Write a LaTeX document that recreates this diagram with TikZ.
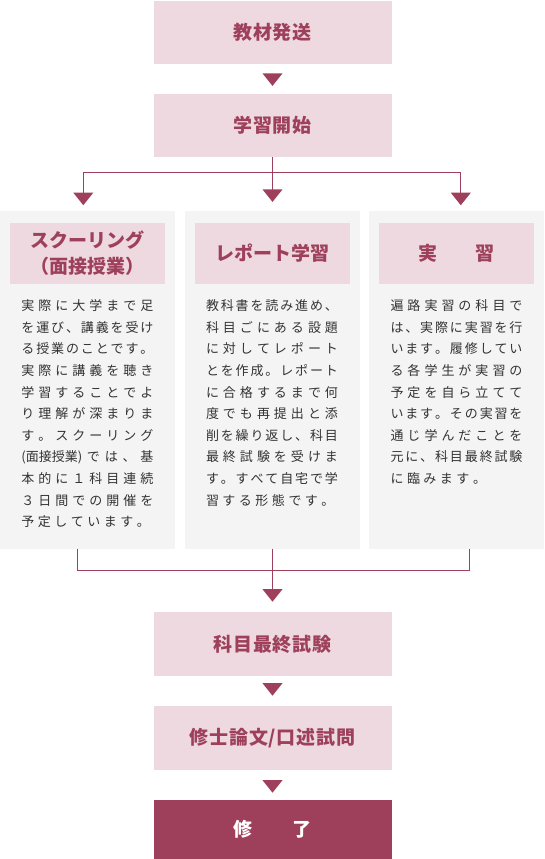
\documentclass[tikz,border=0pt]{standalone}
\usepackage{fontspec}
\setmainfont{Noto Sans CJK JP}
\usetikzlibrary{shapes.geometric}

\definecolor{wine}{RGB}{158,64,91}
\definecolor{blush}{RGB}{237,217,223}
\definecolor{panelgray}{RGB}{244,244,244}
\definecolor{bodyink}{RGB}{51,51,51}

% spread the characters of a line
\newlength\bodywidth
\setlength\bodywidth{132pt}
\def\jendmark{\jend}
\def\jgap{\hfil}
\def\jfirst#1{#1\jrest}
\def\jrest#1{\def\jtmp{#1}\ifx\jtmp\jendmark\else\jgap#1\expandafter\jrest\fi}
\newcommand\jline[1]{\makebox[\bodywidth][s]{\jfirst#1\jend}}
\newcommand\jlast[1]{\makebox[\bodywidth][l]{\def\jgap{\kern3.5pt}\jfirst#1\jend}}
\newcommand\spaced[1]{{\def\jgap{\kern0.8pt}\jfirst#1\jend}}

\begin{document}
\begin{tikzpicture}[
    x=1pt, y=1pt,
    stepbox/.style={
        fill=blush,
        minimum width=238pt,
        minimum height=63.4pt,
        inner sep=0pt,
        text=wine,
        font=\fontsize{19}{22}\selectfont\bfseries
    },
    finalbox/.style={stepbox, fill=wine, text=white, minimum height=59pt},
    panel/.style={
        fill=panelgray,
        minimum width=175pt,
        minimum height=337.8pt,
        inner sep=0pt
    },
    header/.style={
        fill=blush,
        minimum width=155pt,
        minimum height=61.3pt,
        inner sep=0pt,
        align=center,
        text=wine,
        font=\fontsize{19}{26}\selectfont\bfseries
    },
    bodytext/.style={
        anchor=north,
        inner sep=0pt,
        align=left,
        text=bodyink,
        font=\fontsize{13}{21.6}\selectfont
    },
    tri/.style={
        isosceles triangle,
        isosceles triangle stretches,
        shape border rotate=-90,
        minimum width=20pt,
        minimum height=12.5pt,
        inner sep=0pt,
        fill=wine
    },
    link/.style={draw=wine, line width=1pt}
]
    \useasboundingbox (0,0) rectangle (544,-859);

    % upper flow
    \node[stepbox] (dispatch) at (272.5,-32.5) {\spaced{教材発送}};
    \node[stepbox] (start) at (272.5,-125.5) {\spaced{学習開始}};
    \coordinate (fork) at (272.5,-172.3);

    % three ways of study
    \node[panel] (scpanel) at (87.4,-379.6) {};
    \node[panel] (rppanel) at (272,-379.6) {};
    \node[panel] (prpanel) at (456.5,-379.6) {};

    \node[header] (schead) at (87.4,-253.4) {スクーリング\\（面接授業）};
    \node[header] (rphead) at (272,-253.4) {レポート学習};
    \node[header] (prhead) at (456.5,-253.4) {実　　習};

    \node[bodytext] (scbody) at (87.4,-299.5) {%
        \jline{実際に大学まで足}\\
        \jline{を運び、講義を受け}\\
        \jline{る授業のことです。}\\
        \jline{実際に講義を聴き}\\
        \jline{学習することでよ}\\
        \jline{り理解が深まりま}\\
        \jline{す。スクーリング}\\
        \jline{{(面接授業)}では、基}\\
        \jline{本的に１科目連続}\\
        \jline{３日間での開催を}\\
        \jlast{予定しています。}};
    \node[bodytext] (rpbody) at (272,-299.5) {%
        \jline{教科書を読み進め、}\\
        \jline{科目ごにある設題}\\
        \jline{に対してレポート}\\
        \jline{とを作成。レポート}\\
        \jline{に合格するまで何}\\
        \jline{度でも再提出と添}\\
        \jline{削を繰り返し、科目}\\
        \jline{最終試験を受けま}\\
        \jline{す。すべて自宅で学}\\
        \jlast{習する形態です。}};
    \node[bodytext] (prbody) at (456.5,-299.5) {%
        \jline{遍路実習の科目で}\\
        \jline{は、実際に実習を行}\\
        \jline{います。履修してい}\\
        \jline{る各学生が実習の}\\
        \jline{予定を自ら立てて}\\
        \jline{います。その実習を}\\
        \jline{通じ学んだことを}\\
        \jline{元に、科目最終試験}\\
        \jlast{に臨みます。}};

    % lower flow
    \coordinate (joinsc) at (77.5,-570);
    \coordinate (joinpr) at (469,-570);
    \node[stepbox] (exam) at (272.5,-644) {\spaced{科目最終試験}};
    \node[stepbox] (thesis) at (272.5,-738) {\spaced{修士論文/口述試問}};
    \node[finalbox] (finish) at (272.5,-829.5) {\spaced{修　　了}};

    % connectors
    \draw[link] (start.south) -- (fork);
    \draw[link] (fork) -| (83.3,-197.5);
    \draw[link] (fork) -| (460.8,-197.5);
    \draw[link] (fork) -- (272.5,-194.2);
    \draw[link] (joinsc |- scpanel.south) -- (joinsc) -- (joinpr) -- (joinpr |- prpanel.south);
    \draw[link] (rppanel.south -| fork) -- (272.5,-594);

    % arrow heads
    \node[tri] (tdispatch) at (272.5,-78.2) {};
    \node[tri] (tsc) at (83.3,-197.5) {};
    \node[tri] (trp) at (272.5,-194.2) {};
    \node[tri] (tpr) at (460.8,-197.5) {};
    \node[tri] (tmerge) at (272.5,-594) {};
    \node[tri] (texam) at (272.5,-688) {};
    \node[tri] (tthesis) at (272.5,-785) {};
\end{tikzpicture}
\end{document}
